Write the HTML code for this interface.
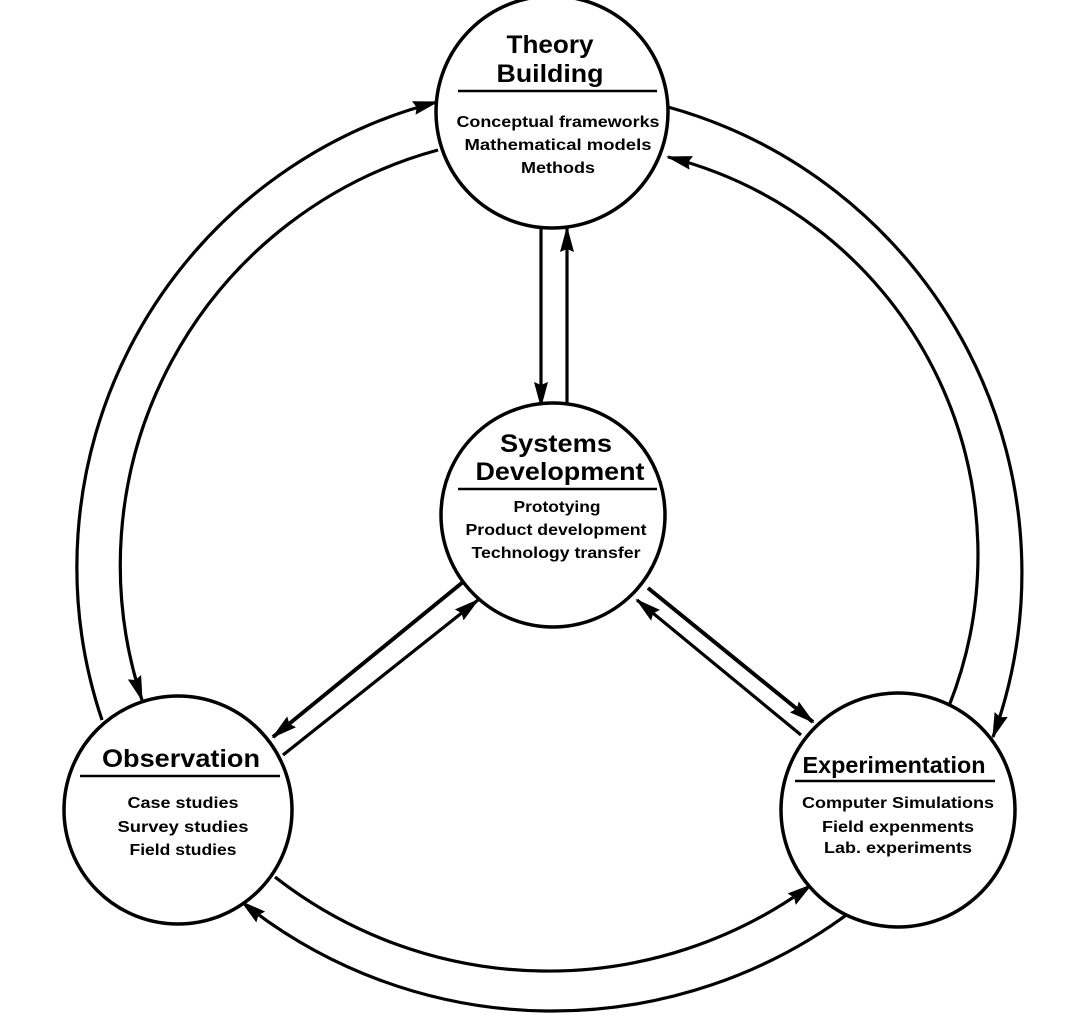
<!DOCTYPE html>
<html><head><meta charset="utf-8"><style>
html,body{margin:0;padding:0;background:#fff;}
svg{display:block;}
text{font-family:"Liberation Sans",Arial,sans-serif;fill:#000;}
.t{font-weight:bold;font-size:25px;}
.b{font-size:16px;font-weight:bold;}
</style></head><body>
<svg width="1086" height="1026" viewBox="0 0 1086 1026" xmlns="http://www.w3.org/2000/svg">
<defs>
<marker id="ah" markerWidth="26" markerHeight="14" refX="24" refY="7" orient="auto" markerUnits="userSpaceOnUse">
<path d="M0,0 L26,7 L0,14 L3,7 Z" fill="#000"/>
</marker>
</defs>
<g fill="none" stroke="#000" stroke-width="3.2">
<path d="M102,720 A480,480 0 0 1 437,102" marker-end="url(#ah)"/>
<path d="M438,150 A430,430 0 0 0 142,700" marker-end="url(#ah)"/>
<path d="M949,706 A410,410 0 0 0 668,157" marker-end="url(#ah)"/>
<path d="M668,107 A483,483 0 0 1 993,737" marker-end="url(#ah)"/>
<path d="M275,877 A444,444 0 0 0 811,885" marker-end="url(#ah)"/>
<path d="M853,910 A497,497 0 0 1 242,902" marker-end="url(#ah)"/>
<path d="M541,228 L541,406" marker-end="url(#ah)"/>
<path d="M567,406 L567,228" marker-end="url(#ah)"/>
<path d="M463,582 L273,737" stroke-width="4" marker-end="url(#ah)"/>
<path d="M283,755 L478,600" marker-end="url(#ah)"/>
<path d="M648,588 L813,722" stroke-width="4" marker-end="url(#ah)"/>
<path d="M801,735 L637,600" marker-end="url(#ah)"/>
</g>
<g fill="#fff" stroke="#000" stroke-width="3.5">
<circle cx="552" cy="112" r="116"/>
<circle cx="553" cy="515" r="112"/>
<circle cx="178" cy="810" r="114"/>
<circle cx="898" cy="810" r="117"/>
</g>
<g stroke="#000" stroke-width="2.5">
<line x1="458" y1="91" x2="657" y2="91"/>
<line x1="458" y1="489" x2="657" y2="489"/>
<line x1="80" y1="776" x2="280" y2="776"/>
<line x1="795" y1="781" x2="995" y2="781"/>
</g>
<g text-anchor="middle">
<text class="t" x="550" y="53" textLength="87" lengthAdjust="spacingAndGlyphs">Theory</text>
<text class="t" x="550" y="82" textLength="107" lengthAdjust="spacingAndGlyphs">Building</text>
<text class="b" x="558" y="127" textLength="203" lengthAdjust="spacingAndGlyphs">Conceptual frameworks</text>
<text class="b" x="558" y="150" textLength="187" lengthAdjust="spacingAndGlyphs">Mathematical  models</text>
<text class="b" x="558" y="173" textLength="74" lengthAdjust="spacingAndGlyphs">Methods</text>

<text class="t" x="556" y="452" textLength="112" lengthAdjust="spacingAndGlyphs">Systems</text>
<text class="t" x="560" y="480" textLength="169" lengthAdjust="spacingAndGlyphs">Development</text>
<text class="b" x="557" y="512" textLength="87" lengthAdjust="spacingAndGlyphs">Prototying</text>
<text class="b" x="556" y="535" textLength="181" lengthAdjust="spacingAndGlyphs">Product development</text>
<text class="b" x="556" y="558" textLength="169" lengthAdjust="spacingAndGlyphs">Technology transfer</text>

<text class="t" x="181" y="767" textLength="158" lengthAdjust="spacingAndGlyphs">Observation</text>
<text class="b" x="183" y="808" textLength="111" lengthAdjust="spacingAndGlyphs">Case studies</text>
<text class="b" x="183" y="832" textLength="131" lengthAdjust="spacingAndGlyphs">Survey  studies</text>
<text class="b" x="183" y="855" textLength="107" lengthAdjust="spacingAndGlyphs">Field studies</text>

<text class="t" x="894" y="773" textLength="183" lengthAdjust="spacingAndGlyphs" style="font-size:23px">Experimentation</text>
<text class="b" x="898" y="808" textLength="192" lengthAdjust="spacingAndGlyphs">Computer Simulations</text>
<text class="b" x="898" y="832" textLength="152" lengthAdjust="spacingAndGlyphs">Field expenments</text>
<text class="b" x="898" y="853" textLength="148" lengthAdjust="spacingAndGlyphs">Lab. experiments</text>
</g>
</svg>
</body></html>
